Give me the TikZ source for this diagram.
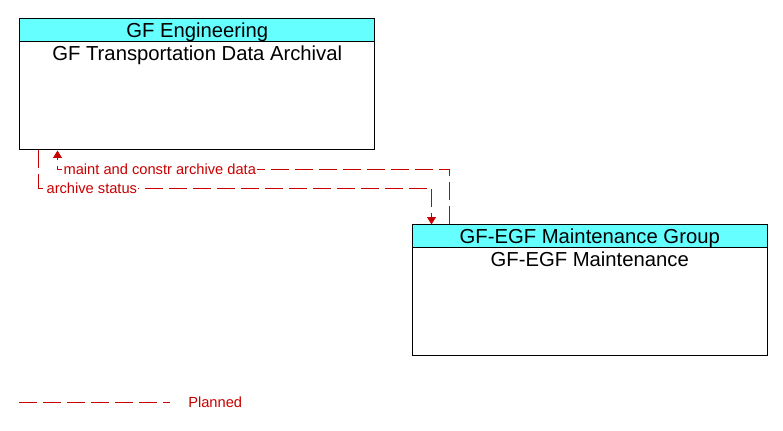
\documentclass[tikz,border=0pt]{standalone}
\usepackage{fontspec}
\setmainfont{Liberation Sans}
\usetikzlibrary{arrows.meta}
\definecolor{hdr}{RGB}{102,255,255}
\definecolor{flowred}{RGB}{200,0,0}
\begin{document}
\begin{tikzpicture}[x=0.75pt,y=-0.75pt,
  box/.style={draw=black,line width=0.75pt,minimum width=266.6pt,minimum height=98.25pt,inner sep=0pt},
  hdrbox/.style={draw=black,fill=hdr,line width=0.75pt,minimum width=266.6pt,minimum height=17.25pt,inner sep=0pt},
  bodytext/.style={inner sep=0pt,anchor=base,font=\fontsize{15.2}{17}\selectfont},
  flow/.style={draw=flowred,line width=0.75pt,dash pattern=on 13.5pt off 4.5pt},
  arr/.style={-{Triangle[width=6.5pt,length=5.5pt]}},
  flowlabel/.style={text=flowred,fill=white,inner sep=1pt,anchor=west,font=\fontsize{11}{13}\selectfont}
]
\useasboundingbox (0,0) rectangle (783,431);
% boxes
\node[box] (b1) at (197.25,84.5) {};
\node[hdrbox] (h1) at (197.25,30.5) {};
\node[bodytext] (ht1) at (197.25,37.5) {GF Engineering};
\node[bodytext] (t1) at (197.25,60.7) {GF Transportation Data Archival};
\node[box] (b2) at (589.75,290.5) {};
\node[hdrbox] (h2) at (589.75,236.5) {};
\node[bodytext] (ht2) at (589.75,243.5) {GF-EGF Maintenance Group};
\node[bodytext] (t2) at (589.75,266.7) {GF-EGF Maintenance};
% helper coordinates
\coordinate (xa) at (449.5,0);
\coordinate (xb) at (57.5,169.5);
\coordinate (xc) at (38.5,0);
\coordinate (xd) at (431.5,188.5);
% connectors
\draw[flow,arr] (b2.north -| xa) |- (xb) -- (b1.south -| xb);
\draw[flow,arr] (b1.south -| xc) |- (xd) -- (b2.north -| xd);
\node[flowlabel] (l1) at (62,169.5) {maint and constr archive data};
\node[flowlabel] (l2) at (45,188.5) {archive status};
% legend
\coordinate (lg1) at (19,402.5);
\coordinate (lg2) at (170,402.5);
\draw[flow] (lg1) -- (lg2);
\node[text=flowred,anchor=west,inner sep=0pt,font=\fontsize{11}{13}\selectfont] (lgt) at (188,402.5) {Planned};
\end{tikzpicture}
\end{document}
